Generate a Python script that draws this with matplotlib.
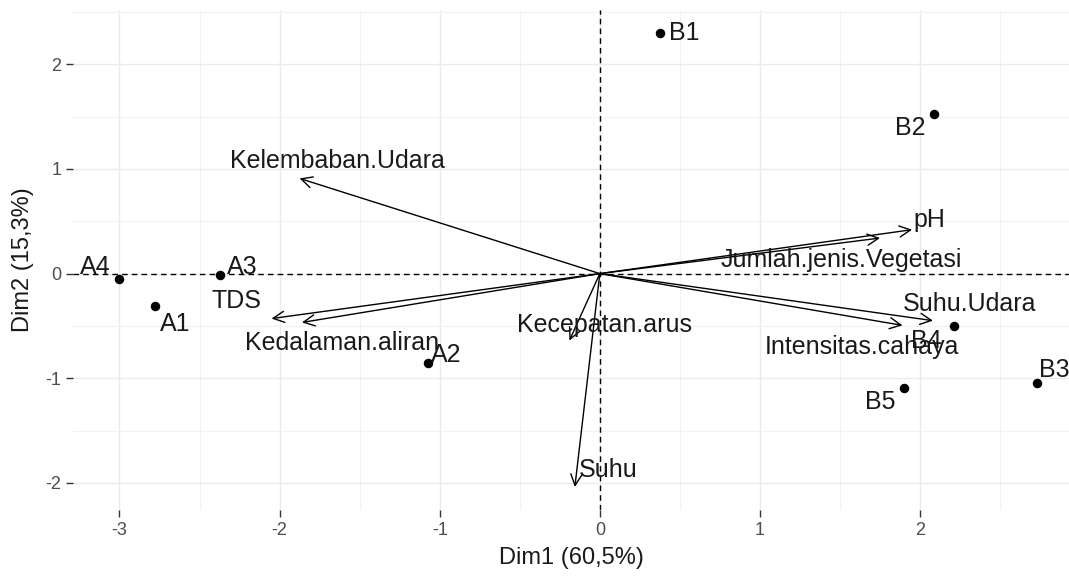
import matplotlib
matplotlib.use("Agg")
import matplotlib.pyplot as plt

plt.rcParams['font.family'] = ['Liberation Sans', 'DejaVu Sans']
plt.rcParams['axes.unicode_minus'] = False

# individu (stasiun)
ind_nama = ['A1', 'A2', 'A3', 'A4', 'B1', 'B2', 'B3', 'B4', 'B5']
ind_x = [-2.78, -1.075, -2.375, -3.0, 0.375, 2.09, 2.73, 2.21, 1.90]
ind_y = [-0.31, -0.85, -0.01, -0.05, 2.30, 1.53, -1.05, -0.50, -1.09]

# variabel (loading)
var_nama = ['Kelembaban.Udara', 'pH', 'Jumlah.jenis.Vegetasi', 'Suhu.Udara',
            'Intensitas.cahaya', 'TDS', 'Kedalaman.aliran', 'Kecepatan.arus', 'Suhu']
var_x = [-1.875, 1.95, 1.75, 2.08, 1.89, -2.05, -1.86, -0.19, -0.156]
var_y = [0.91, 0.42, 0.34, -0.45, -0.495, -0.43, -0.467, -0.64, -2.04]

xlab = 'Dim1 (60,5%)'
ylab = 'Dim2 (15,3%)'

# posisi label relatif terhadap titik / ujung panah (seperti repel)
ind_off = [(0.13, -0.17), (0.115, 0.07), (0.14, 0.076), (-0.15, 0.115), (0.15, 0.0),
           (-0.15, -0.14), (0.11, 0.13), (-0.17, -0.14), (-0.15, -0.14)]
var_off = [(0.235, 0.17), (0.11, 0.09), (-0.24, -0.21), (0.23, 0.16), (-0.25, -0.21),
           (-0.22, 0.17), (0.25, -0.2), (0.22, 0.145), (0.21, 0.16)]

fig = plt.figure(figsize=(10.69, 5.79), dpi=100)
ax = fig.add_axes([73 / 1069, 1 - 510 / 579, 1 - 73 / 1069, 500 / 579])

# grid mayor dan minor ala ggplot
for v in [-3, -2, -1, 0, 1, 2]:
    ax.axvline(v, color='#EBEBEB', lw=1.0, zorder=0)
for v in [-2.5, -1.5, -0.5, 0.5, 1.5, 2.5]:
    ax.axvline(v, color='#F2F2F2', lw=0.8, zorder=0)
for v in [-2, -1, 0, 1, 2]:
    ax.axhline(v, color='#EBEBEB', lw=1.0, zorder=0)
for v in [-1.5, -0.5, 0.5, 1.5, 2.5]:
    ax.axhline(v, color='#F2F2F2', lw=0.8, zorder=0)

ax.axhline(0, color='black', lw=1.0, ls=(0, (4, 3)), zorder=1)
ax.axvline(0, color='black', lw=1.0, ls=(0, (4, 3)), zorder=1)

# panah variabel
for nama, x, y, (dx, dy) in zip(var_nama, var_x, var_y, var_off):
    ax.annotate('', xy=(x, y), xytext=(0, 0),
                arrowprops=dict(arrowstyle='->,head_length=0.8,head_width=0.4',
                                color='black', lw=1.0, shrinkA=0, shrinkB=0), zorder=2)
    ax.text(x + dx, y + dy, nama, fontsize=18, ha='center', va='center', color='#1A1A1A', zorder=3)

# titik individu
ax.scatter(ind_x, ind_y, s=34, color='black', zorder=4)
for nama, x, y, (dx, dy) in zip(ind_nama, ind_x, ind_y, ind_off):
    ax.text(x + dx, y + dy, nama, fontsize=18, ha='center', va='center', color='#1A1A1A', zorder=3)

ax.set_xlim(-3.29, 2.93)
ax.set_ylim(-2.26, 2.52)
ax.set_xticks([-3, -2, -1, 0, 1, 2])
ax.set_yticks([-2, -1, 0, 1, 2])
ax.tick_params(colors='#4D4D4D', labelsize=13, length=5, width=1)
ax.tick_params(axis='both', colors='#333333', labelcolor='#4D4D4D')
for s in ax.spines.values():
    s.set_visible(False)
ax.set_xlabel(xlab, fontsize=17, color='#1A1A1A', labelpad=6)
ax.set_ylabel(ylab, fontsize=17, color='#1A1A1A', labelpad=8)

fig.savefig('out.png', dpi=100)
